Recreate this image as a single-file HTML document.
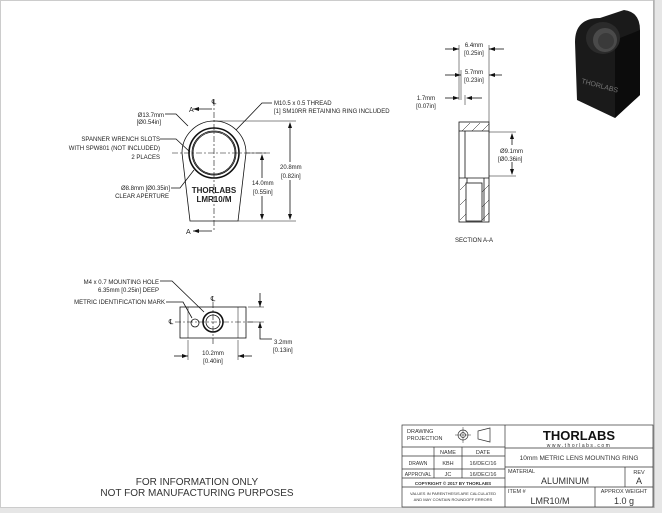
<!DOCTYPE html>
<html><head><style>
html,body{margin:0;padding:0;background:#fff;}
svg{display:block;font-family:"Liberation Sans",sans-serif;}
</style></head><body>
<svg width="662" height="513" viewBox="0 0 662 513">
<rect x="0" y="0" width="662" height="513" fill="#fff"/>
<rect x="0.5" y="0.5" width="653" height="507" fill="none" stroke="#ccc" stroke-width="1"/>
<rect x="654" y="0" width="8" height="513" fill="#e6e6e6"/>
<rect x="0" y="508" width="662" height="5" fill="#e6e6e6"/>
<line x1="654" y1="0" x2="654" y2="508" stroke="#999"/>

<g stroke="#111" fill="none" stroke-width="0.8">
<!-- front view -->
<path d="M182,153 A32,32 0 0 1 246,153 L238,221 L190,221 Z"/>
<circle cx="214" cy="153" r="25" stroke-width="1.6"/>
<circle cx="214" cy="153" r="22"/>
<circle cx="214" cy="153" r="21"/>
<line x1="214" y1="100" x2="214" y2="232" stroke-dasharray="6,2,2,2" stroke-width="0.6"/>
<line x1="172" y1="153" x2="270" y2="153" stroke-dasharray="6,2,2,2" stroke-width="0.6"/>
<line x1="193" y1="109" x2="212" y2="109"/><line x1="193" y1="231" x2="212" y2="231"/>
<!-- dims -->
<line x1="214" y1="121" x2="296" y2="121" stroke-width="0.5"/>
<line x1="238" y1="221" x2="296" y2="221" stroke-width="0.5"/>
<line x1="246" y1="153" x2="268" y2="153" stroke-width="0.5"/>
<line x1="290" y1="124" x2="290" y2="162"/><line x1="290" y1="180" x2="290" y2="218"/>
<line x1="262" y1="156" x2="262" y2="178"/><line x1="262" y1="196" x2="262" y2="218"/>
<!-- leaders -->
<polyline points="165,114 176,114 188,126"/>
<polyline points="160,139 176,139 190,152"/>
<polyline points="171,188 180,188 194,170"/>
<polyline points="272,103 262,103 236,130"/>
</g>
<g fill="#111">
<polygon points="193,109 199,107 199,111"/><polygon points="193,231 199,229 199,233"/>
<polygon points="290,122 288,128 292,128"/><polygon points="290,220 288,214 292,214"/>
<polygon points="262,154 260,160 264,160"/><polygon points="262,220 260,214 264,214"/>
</g>
<g font-size="6" fill="#222">
<text x="214" y="104" text-anchor="middle" font-size="7">℄</text>
<text x="189" y="112" font-size="7">A</text>
<text x="186" y="234" font-size="7">A</text>
<text x="164" y="117" text-anchor="end">Ø13.7mm</text>
<text x="161" y="124" text-anchor="end">[Ø0.54in]</text>
<text x="160" y="141" text-anchor="end">SPANNER WRENCH SLOTS</text>
<text x="160" y="150" text-anchor="end">WITH SPW801 (NOT INCLUDED)</text>
<text x="160" y="159" text-anchor="end">2 PLACES</text>
<text x="170" y="190" text-anchor="end">Ø8.8mm [Ø0.35in]</text>
<text x="169" y="198" text-anchor="end">CLEAR APERTURE</text>
<text x="274" y="105">M10.5 x 0.5 THREAD</text>
<text x="274" y="113">[1] SM10RR RETAINING RING INCLUDED</text>
<text x="280" y="169">20.8mm</text><text x="281" y="178">[0.82in]</text>
<text x="252" y="185">14.0mm</text><text x="253" y="194">[0.55in]</text>
<text x="214" y="193" text-anchor="middle" font-size="8" font-weight="bold">THORLABS</text>
<text x="214" y="202" text-anchor="middle" font-size="8" font-weight="bold">LMR10/M</text>
</g>

<!-- section view -->
<g stroke="#111" fill="none" stroke-width="0.8">
<rect x="459" y="122" width="30" height="100"/>
<line x1="459" y1="131" x2="489" y2="131"/>
<line x1="459" y1="178" x2="489" y2="178"/>
<line x1="465" y1="131" x2="465" y2="178"/>
<rect x="466" y="183" width="16" height="38"/>
<line x1="467" y1="178" x2="467" y2="183"/>
<line x1="484" y1="178" x2="484" y2="221"/>
<g stroke-width="0.5">
<line x1="462" y1="131" x2="470" y2="123"/><line x1="472" y1="131" x2="480" y2="123"/><line x1="482" y1="131" x2="489" y2="124"/>
<line x1="460" y1="190" x2="466" y2="184"/><line x1="460" y1="205" x2="466" y2="199"/><line x1="460" y1="220" x2="466" y2="214"/>
<line x1="482" y1="192" x2="489" y2="185"/><line x1="482" y1="207" x2="489" y2="200"/><line x1="482" y1="220" x2="489" y2="213"/>
</g>
<line x1="459" y1="45" x2="459" y2="100" stroke-width="0.5"/><line x1="489" y1="45" x2="489" y2="122" stroke-width="0.5"/>
<line x1="461" y1="70" x2="461" y2="100" stroke-width="0.5"/><line x1="465" y1="95" x2="465" y2="105" stroke-width="0.5"/>
<line x1="445" y1="49" x2="459" y2="49"/><line x1="489" y1="49" x2="504" y2="49"/>
<line x1="445" y1="75" x2="461" y2="75"/><line x1="489" y1="75" x2="502" y2="75"/>
<line x1="445" y1="98" x2="459" y2="98"/><line x1="467" y1="98" x2="482" y2="98"/>
<line x1="489" y1="132" x2="516" y2="132" stroke-width="0.5"/><line x1="489" y1="176" x2="516" y2="176" stroke-width="0.5"/>
<line x1="512" y1="134" x2="512" y2="145"/><line x1="512" y1="162" x2="512" y2="174"/>
</g>
<g fill="#111">
<polygon points="459,49 453,47 453,51"/><polygon points="489,49 495,47 495,51"/>
<polygon points="461,75 455,73 455,77"/><polygon points="489,75 495,73 495,77"/>
<polygon points="459,98 453,96 453,100"/><polygon points="466,98 472,96 472,100"/>
<polygon points="512,133 510,139 514,139"/><polygon points="512,175 510,169 514,169"/>
</g>
<g font-size="6" fill="#222">
<text x="474" y="47" text-anchor="middle">6.4mm</text><text x="474" y="55" text-anchor="middle">[0.25in]</text>
<text x="474" y="74" text-anchor="middle">5.7mm</text><text x="474" y="82" text-anchor="middle">[0.23in]</text>
<text x="426" y="100" text-anchor="middle">1.7mm</text><text x="426" y="108" text-anchor="middle">[0.07in]</text>
<text x="500" y="153">Ø9.1mm</text><text x="498" y="161">[Ø0.36in]</text>
<text x="474" y="242" text-anchor="middle">SECTION A-A</text>
</g>

<!-- 3D render -->
<g>
<path d="M575,42 Q575,18 600,18 L624,10 Q640,12 640,30 L640,95 L615,118 L577,100 Z" fill="#1a1a1a"/>
<path d="M615,40 L640,30 L640,95 L615,118 Z" fill="#0c0c0c"/>
<ellipse cx="603" cy="38" rx="17" ry="16" fill="#2b2b2b"/>
<ellipse cx="605" cy="40" rx="12" ry="12" fill="#4a4a4a"/>
<ellipse cx="606" cy="41" rx="8" ry="8" fill="#3a3a3a"/>
<text x="581" y="83" font-size="7" fill="#777" transform="rotate(15 581 83)">THORLABS</text>
</g>

<!-- bottom view -->
<g stroke="#111" fill="none" stroke-width="0.8">
<rect x="180" y="307" width="66" height="31"/>
<line x1="188" y1="307" x2="188" y2="338" stroke-width="0.5"/><line x1="238" y1="307" x2="238" y2="338" stroke-width="0.5"/>
<circle cx="213" cy="322" r="10" stroke-width="1.6"/><circle cx="213" cy="322" r="7"/>
<circle cx="195" cy="323" r="4"/>
<line x1="175" y1="322" x2="255" y2="322" stroke-dasharray="6,2,2,2" stroke-width="0.6"/>
<line x1="213" y1="302" x2="213" y2="344" stroke-dasharray="6,2,2,2" stroke-width="0.6"/>
<polyline points="160,281 172,281 204,312"/>
<polyline points="166,302 183,302 192,318"/>
<line x1="188" y1="340" x2="188" y2="360" stroke-width="0.5"/><line x1="238" y1="340" x2="238" y2="360" stroke-width="0.5"/>
<line x1="174" y1="356" x2="188" y2="356"/><line x1="238" y1="356" x2="252" y2="356"/>
<line x1="248" y1="307" x2="264" y2="307" stroke-width="0.5"/><line x1="248" y1="322" x2="264" y2="322" stroke-width="0.5"/>
<line x1="260" y1="293" x2="260" y2="307"/><polyline points="260,322 260,339 272,339"/>
</g>
<g fill="#111">
<polygon points="188,356 182,354 182,358"/><polygon points="238,356 244,354 244,358"/>
<polygon points="260,307 258,301 262,301"/><polygon points="260,322 258,328 262,328"/>
</g>
<g font-size="6" fill="#222">
<text x="159" y="284" text-anchor="end">M4 x 0.7 MOUNTING HOLE</text>
<text x="159" y="292" text-anchor="end">6.35mm [0.25in] DEEP</text>
<text x="165" y="304" text-anchor="end">METRIC IDENTIFICATION MARK</text>
<text x="213" y="301" text-anchor="middle" font-size="7">℄</text>
<text x="171" y="324" text-anchor="middle" font-size="7">℄</text>
<text x="213" y="355" text-anchor="middle">10.2mm</text><text x="213" y="363" text-anchor="middle">[0.40in]</text>
<text x="274" y="344">3.2mm</text><text x="273" y="352">[0.13in]</text>
</g>

<g font-size="10" fill="#333" text-anchor="middle">
<text x="197" y="485">FOR INFORMATION ONLY</text>
<text x="197" y="496">NOT FOR MANUFACTURING PURPOSES</text>
</g>

<!-- title block -->
<g stroke="#333" fill="none" stroke-width="0.7">
<rect x="402" y="425" width="251" height="82"/>
<line x1="505" y1="425" x2="505" y2="507"/>
<line x1="402" y1="447" x2="505" y2="447"/>
<line x1="402" y1="456" x2="505" y2="456"/>
<line x1="402" y1="469" x2="505" y2="469"/>
<line x1="402" y1="478" x2="505" y2="478"/>
<line x1="402" y1="487" x2="505" y2="487"/>
<line x1="434" y1="447" x2="434" y2="478"/><line x1="462" y1="447" x2="462" y2="478"/>
<line x1="505" y1="448" x2="653" y2="448"/>
<line x1="505" y1="467" x2="653" y2="467"/>
<line x1="505" y1="487" x2="653" y2="487"/>
<line x1="625" y1="467" x2="625" y2="487"/>
<line x1="595" y1="487" x2="595" y2="507"/>
<circle cx="463" cy="435" r="5"/><circle cx="463" cy="435" r="2.5"/>
<line x1="455" y1="435" x2="471" y2="435" stroke-width="0.5"/><line x1="463" y1="427" x2="463" y2="443" stroke-width="0.5"/>
<path d="M478,431 L490,428 L490,442 L478,439 Z"/>
</g>
<g fill="#333" font-size="5.5">
<text x="407" y="433">DRAWING</text><text x="407" y="440">PROJECTION</text>
<text x="448" y="454" text-anchor="middle">NAME</text><text x="483" y="454" text-anchor="middle">DATE</text>
<text x="418" y="465" text-anchor="middle" font-size="5">DRAWN</text><text x="448" y="465" text-anchor="middle">KBH</text><text x="483" y="465" text-anchor="middle">16/DEC/16</text>
<text x="418" y="476" text-anchor="middle" font-size="5">APPROVAL</text><text x="448" y="476" text-anchor="middle">JC</text><text x="483" y="476" text-anchor="middle">16/DEC/16</text>
<text x="453" y="485" text-anchor="middle" font-size="4.5" font-weight="bold">COPYRIGHT © 2017 BY THORLABS</text>
<text x="453" y="495" text-anchor="middle" font-size="4">VALUES IN PARENTHESIS ARE CALCULATED</text>
<text x="453" y="501" text-anchor="middle" font-size="4">AND MAY CONTAIN ROUNDOFF ERRORS</text>
<text x="579" y="440" text-anchor="middle" font-size="13" font-weight="bold" fill="#111">THORLABS</text>
<text x="579" y="447" text-anchor="middle" font-size="5" letter-spacing="1.5">www.thorlabs.com</text>
<text x="579" y="460" text-anchor="middle" font-size="6.5">10mm METRIC LENS MOUNTING RING</text>
<text x="508" y="473">MATERIAL</text>
<text x="565" y="484" text-anchor="middle" font-size="9">ALUMINUM</text>
<text x="639" y="474" text-anchor="middle">REV</text><text x="639" y="484" text-anchor="middle" font-size="9">A</text>
<text x="508" y="493">ITEM #</text>
<text x="550" y="504" text-anchor="middle" font-size="9">LMR10/M</text>
<text x="624" y="493" text-anchor="middle">APPROX WEIGHT</text>
<text x="624" y="504" text-anchor="middle" font-size="9">1.0 g</text>
</g>
</svg>
</body></html>
